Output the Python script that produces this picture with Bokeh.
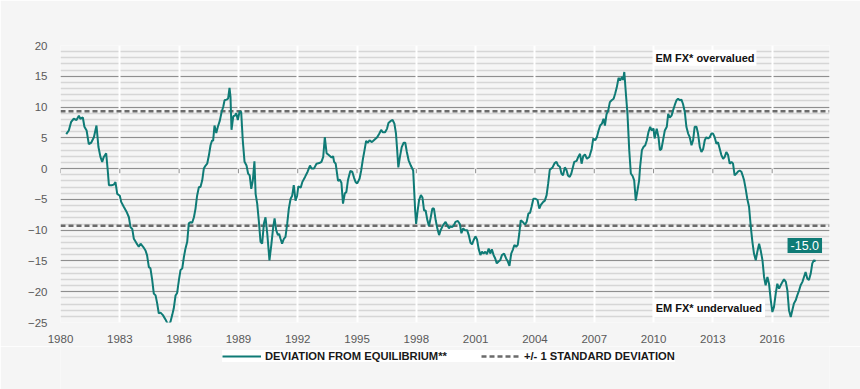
from bokeh.plotting import figure
from bokeh.layouts import column
from bokeh.models import (Range1d, Label, Legend, LegendItem, FixedTicker, ColumnDataSource)
from bokeh.embed import file_html
from bokeh.resources import INLINE

# ---------------- data ----------------
years = [
    1980.29, 1980.42, 1980.54, 1980.67, 1980.81, 1980.93, 1981.00, 1981.13, 1981.21, 1981.32,
    1981.43, 1981.55, 1981.69, 1981.82, 1981.92, 1982.02, 1982.11, 1982.19, 1982.31, 1982.39,
    1982.45, 1982.58, 1982.70, 1982.78, 1982.87, 1983.00, 1983.07, 1983.20, 1983.34, 1983.46,
    1983.54, 1983.63, 1983.71, 1983.84, 1983.96, 1984.05, 1984.18, 1984.30, 1984.38, 1984.47,
    1984.55, 1984.64, 1984.72, 1984.81, 1984.89, 1984.97, 1985.06, 1985.18, 1985.31, 1985.45,
    1985.56, 1985.65, 1985.73, 1985.82, 1985.90, 1985.99, 1986.07, 1986.16, 1986.24, 1986.32,
    1986.41, 1986.49, 1986.58, 1986.66, 1986.75, 1986.83, 1986.91, 1987.00, 1987.08, 1987.17,
    1987.25, 1987.34, 1987.42, 1987.51, 1987.59, 1987.67, 1987.72, 1987.79, 1987.88, 1987.96,
    1988.06, 1988.15, 1988.23, 1988.30, 1988.40, 1988.48, 1988.55, 1988.60, 1988.65, 1988.74,
    1988.82, 1988.89, 1988.97, 1989.06, 1989.14, 1989.22, 1989.31, 1989.41, 1989.49, 1989.57,
    1989.65, 1989.73, 1989.81, 1989.87, 1989.95, 1990.03, 1990.12, 1990.20, 1990.29, 1990.37,
    1990.46, 1990.57, 1990.66, 1990.76, 1990.83, 1990.91, 1991.00, 1991.06, 1991.13, 1991.21,
    1991.30, 1991.38, 1991.47, 1991.55, 1991.64, 1991.72, 1991.80, 1991.89, 1991.97,
    1992.03, 1992.15, 1992.23, 1992.37, 1992.50, 1992.62, 1992.70, 1992.82, 1992.95, 1993.09,
    1993.20, 1993.29, 1993.37, 1993.46, 1993.57, 1993.71, 1993.79, 1993.84, 1993.92, 1994.04,
    1994.13, 1994.21, 1994.29, 1994.38, 1994.46, 1994.54, 1994.66, 1994.76, 1994.85, 1994.93,
    1995.01, 1995.13, 1995.21, 1995.30, 1995.38, 1995.46, 1995.55, 1995.63, 1995.75, 1995.88,
    1996.02, 1996.13, 1996.22, 1996.30, 1996.42, 1996.52, 1996.59, 1996.69, 1996.80, 1996.89,
    1996.97, 1997.02, 1997.09, 1997.17, 1997.26, 1997.36, 1997.44, 1997.52, 1997.61, 1997.72,
    1997.84, 1997.89, 1997.94, 1997.99, 1998.06, 1998.14, 1998.23, 1998.31, 1998.39, 1998.47,
    1998.56, 1998.64, 1998.73, 1998.81, 1998.89, 1998.98, 1999.06, 1999.15, 1999.23, 1999.35,
    1999.48, 1999.56, 1999.65, 1999.73, 1999.81, 1999.90, 1999.98, 2000.10, 2000.20, 2000.28,
    2000.37, 2000.45, 2000.57, 2000.65, 2000.74, 2000.82, 2000.90, 2000.99, 2001.07, 2001.15,
    2001.24, 2001.32, 2001.40, 2001.49, 2001.57, 2001.66, 2001.74, 2001.82, 2001.91, 2001.99,
    2002.07, 2002.16, 2002.24, 2002.33, 2002.44, 2002.54, 2002.63, 2002.71, 2002.80, 2002.88,
    2002.96, 2003.05, 2003.13, 2003.21, 2003.28, 2003.38, 2003.50, 2003.58, 2003.67, 2003.75,
    2003.83, 2003.92, 2004.03, 2004.13, 2004.22, 2004.30, 2004.42, 2004.50, 2004.59, 2004.67,
    2004.75, 2004.89, 2005.00, 2005.09, 2005.17, 2005.26, 2005.34, 2005.42, 2005.51, 2005.59,
    2005.67, 2005.76, 2005.84,
    2005.99, 2006.11, 2006.19, 2006.28, 2006.36, 2006.44, 2006.53, 2006.63, 2006.75, 2006.87,
    2006.95, 2007.05, 2007.13, 2007.22, 2007.30, 2007.39, 2007.47, 2007.54, 2007.62, 2007.71,
    2007.79, 2007.88, 2007.98, 2008.06, 2008.14, 2008.23, 2008.31, 2008.40, 2008.46, 2008.52,
    2008.60, 2008.68, 2008.77, 2008.85, 2008.94, 2009.02, 2009.10, 2009.19, 2009.27, 2009.32,
    2009.41, 2009.49, 2009.58, 2009.66, 2009.74, 2009.83, 2009.90, 2010.00, 2010.05, 2010.16,
    2010.25, 2010.32, 2010.40, 2010.48, 2010.57, 2010.67, 2010.74, 2010.82, 2010.91, 2010.99,
    2011.07, 2011.16, 2011.24, 2011.33, 2011.41, 2011.49, 2011.58, 2011.66, 2011.75, 2011.83,
    2011.92, 2012.00, 2012.08, 2012.17, 2012.25, 2012.34, 2012.42, 2012.51, 2012.59, 2012.67,
    2012.76, 2012.84, 2012.93, 2013.01, 2013.09, 2013.18, 2013.26, 2013.35, 2013.43, 2013.52,
    2013.60, 2013.68, 2013.77, 2013.85, 2013.94, 2014.02, 2014.10, 2014.19, 2014.27, 2014.36,
    2014.44, 2014.53, 2014.58, 2014.66, 2014.74, 2014.83, 2014.92, 2015.00, 2015.08, 2015.17,
    2015.25, 2015.34, 2015.42, 2015.51, 2015.59, 2015.67, 2015.76, 2015.84, 2015.93, 2016.01,
    2016.09, 2016.18, 2016.26, 2016.35, 2016.43, 2016.52, 2016.60, 2016.69, 2016.77, 2016.85,
    2016.94, 2017.02, 2017.10, 2017.19, 2017.27, 2017.36, 2017.44, 2017.53, 2017.61, 2017.69,
    2017.78, 2017.86, 2017.95, 2018.03, 2018.11, 2018.20,
]

deviation = [
    5.6, 6.2, 7.6, 8.1, 7.9, 8.6, 8.1, 8.3, 6.8, 6.2,
    4.0, 4.2, 5.1, 7.0, 3.5, 1.9, 1.1, 1.9, 2.5, -0.3,
    -2.7, -2.7, -2.6, -2.2, -4.1, -4.4, -5.4, -6.2, -7.0, -7.9,
    -9.5, -9.8, -11.4, -12.1, -12.7, -12.2, -12.7, -13.3, -14.1, -16.0,
    -16.2, -18.1, -20.3, -20.6, -21.9, -23.5, -23.4, -23.8, -24.5, -25.4,
    -24.9, -23.8, -22.7, -20.6, -20.2, -18.1, -16.5, -16.2, -14.4, -13.0,
    -11.9, -8.9, -8.7, -8.8, -7.9, -6.5, -4.4, -3.0, -3.0, -1.9,
    0.0, 0.5, 0.8, 2.2, 3.8, 4.6, 4.5, 7.0, 5.8, 6.8,
    7.8, 9.2, 10.0, 11.1, 11.2, 11.4, 13.1, 11.6, 6.3, 8.5,
    8.6, 9.0, 7.9, 9.3, 9.2, 4.6, 1.1, 0.5, -0.8, -1.1,
    -3.3, -1.9, 1.2, -4.1, -5.7, -8.4, -11.9, -12.2, -8.9, -7.9,
    -10.6, -14.9, -12.5, -9.5, -8.1, -10.0, -10.8, -10.6, -11.4, -12.2,
    -11.4, -11.1, -8.9, -6.5, -4.9, -4.4, -2.7, -5.2, -4.4,
    -2.9, -3.1, -2.2, -1.35, -0.5, 0.5, 0.0, 0.0, 0.8, 0.9,
    1.1, 1.9, 5.1, 2.5, 2.2, 1.8, 2.0, 1.1, 0.8, -2.0,
    -1.8, -2.3, -5.7, -4.05, -3.8, -1.9, -0.4, -0.5, -1.5, -2.2,
    -2.4, -1.6, -0.3, 1.6, 3.0, 4.5, 4.2, 4.6, 4.3, 4.7,
    5.1, 5.7, 6.3, 5.9, 5.9, 6.5, 7.4, 7.7, 7.9, 7.3,
    5.7, 3.5, 0.2, 1.9, 3.5, 4.2, 4.2, 2.7, 1.35, 0.5,
    -0.3, -3.5, -6.8, -9.0, -7.0, -5.1, -4.3, -4.7, -6.8, -6.8,
    -8.4, -9.35, -7.9, -6.5, -6.5, -8.4, -9.7, -10.8, -10.0, -9.2,
    -8.65, -9.2, -9.7, -9.35, -9.5, -9.2, -8.65, -8.5, -9.0, -10.5,
    -9.7, -10.0, -10.0, -10.8, -12.05, -12.3, -11.6, -11.0, -11.5, -13.0,
    -14.05, -13.5, -13.8, -13.5, -13.9, -13.0, -13.8, -13.1, -14.05, -14.6,
    -15.4, -15.1, -14.9, -14.05, -13.8, -14.6, -15.1, -15.8, -13.8, -13.2,
    -12.4, -12.7, -12.4, -10.5, -8.4, -8.65, -9.1, -8.65, -7.3, -7.2,
    -6.2, -4.9, -4.9, -5.1, -6.5, -5.9, -5.4, -5.2, -4.3, -2.4,
    -0.2, 0.2, 0.9, 1.1, 0.5, 0.3, -0.8, -1.1, 0.2, -0.2,
    -1.1, -1.35, -0.8,
    1.1, 1.25, 1.9, 2.4, 0.8, 2.0, 2.3, 1.6, 1.9, 3.2,
    4.9, 4.6, 5.1, 6.2, 7.0, 7.3, 8.1, 7.0, 8.8, 9.5,
    10.8, 11.1, 11.35, 12.2, 13.2, 14.75, 14.3, 14.9, 14.4, 15.7,
    12.2, 8.9, 3.0, -0.8, -1.2, -1.9, -5.2, -3.5, -1.9, 0.3,
    3.0, 3.5, 3.8, 4.6, 5.9, 6.8, 6.2, 6.5, 4.9, 6.5,
    5.1, 3.0, 3.2, 4.6, 6.2, 6.8, 8.9, 8.3, 8.6, 9.5,
    10.3, 11.1, 11.35, 11.1, 11.2, 10.5, 9.2, 6.8, 5.7, 5.1,
    3.8, 4.6, 6.8, 6.8, 5.7, 3.5, 2.7, 3.2, 4.6, 5.1,
    4.9, 5.1, 5.7, 5.7, 5.1, 4.05, 4.3, 3.2, 2.2, 1.6,
    1.9, 2.7, 2.2, 0.8, 1.1, 0.8, -1.1, -0.8, -0.5, -0.3,
    -0.5, -1.35, -1.9, -3.3, -4.9, -6.2, -9.5, -11.9, -13.8, -14.9,
    -13.5, -12.2, -13.3, -14.9, -17.6, -18.95, -17.6, -18.7, -21.4, -23.3,
    -22.5, -20.3, -18.7, -19.5, -18.95, -18.4, -18.0, -18.4, -19.8, -23.0,
    -24.1, -23.0, -21.9, -21.4, -20.6, -19.8, -18.95, -18.4, -17.6, -16.8,
    -17.9, -18.1, -17.05, -15.4, -14.9, -15.0,
]

std_dev = 9.3
x_start, x_end = 1980, 2018.9
y_start, y_end = -25, 20
x_ticks = [1980, 1983, 1986, 1989, 1992, 1995, 1998, 2001, 2004, 2007, 2010, 2013, 2016]
y_ticks = [-25, -20, -15, -10, -5, 0, 5, 10, 15, 20]
series_label = "DEVIATION FROM EQUILIBRIUM**"
std_label = "+/- 1 STANDARD DEVIATION"
over_label = "EM FX* overvalued"
under_label = "EM FX* undervalued"

# ---------------- styling ----------------
TEAL = "#0f7b76"
DASH_COLOR = "#6b6b6b"
BG = "#f5f5f5"
FONT = "Liberation Sans"

p = figure(width=860, height=346, output_backend="svg", toolbar_location=None,
           x_range=Range1d(x_start, x_end), y_range=Range1d(y_start, y_end),
           background_fill_color=BG, border_fill_color=BG, outline_line_color=None,
           min_border_left=60, min_border_right=31, min_border_top=45, min_border_bottom=24)

# grids
p.ygrid.ticker = FixedTicker(ticks=y_ticks, minor_ticks=list(range(y_start, y_end + 1)))
p.ygrid.grid_line_color = "#8f8f8f"
p.ygrid.grid_line_width = 1
p.ygrid.minor_grid_line_color = "#d6d6d6"
p.ygrid.minor_grid_line_width = 1.6
p.xgrid.ticker = FixedTicker(ticks=x_ticks)
p.xgrid.grid_line_color = "white"
p.xgrid.grid_line_width = 2

# axes
p.xaxis.ticker = FixedTicker(ticks=x_ticks)
p.yaxis.ticker = FixedTicker(ticks=y_ticks)
for ax in (p.xaxis[0], p.yaxis[0]):
    ax.axis_line_color = None
    ax.major_tick_line_color = None
    ax.minor_tick_line_color = None
    ax.major_label_text_font = FONT
    ax.major_label_text_font_size = "11.5px"
    ax.major_label_text_color = "#595959"
p.yaxis.major_label_standoff = 7
p.xaxis.major_label_standoff = 6

# tick marks sitting on the zero line
p.segment(x0=x_ticks, x1=x_ticks, y0=[0] * len(x_ticks), y1=[-0.75] * len(x_ticks),
          line_color="#8f8f8f", line_width=1)

# +/- 1 standard deviation lines across the whole plot
p.multi_line(xs=[[x_start, x_end], [x_start, x_end]],
             ys=[[std_dev, std_dev], [-std_dev, -std_dev]],
             line_color=DASH_COLOR, line_width=2.5, line_dash="5 3")

src = ColumnDataSource(dict(x=years, y=deviation))
p.line("x", "y", source=src, line_color=TEAL, line_width=2)

# annotations
p.add_layout(Label(x=2012.6, y=18.0, text=over_label, text_align="center",
                   text_baseline="middle", text_font=FONT, text_font_size="11px",
                   text_font_style="bold", text_color="#111111",
                   background_fill_color="white", padding=2))
p.add_layout(Label(x=2012.8, y=-22.7, text=under_label, text_align="center",
                   text_baseline="middle", text_font=FONT, text_font_size="11px",
                   text_font_style="bold", text_color="#111111",
                   background_fill_color="white", padding=3))
p.add_layout(Label(x=years[-1] - 0.55, y=deviation[-1] + 2.5,
                   text=f"{deviation[-1]:.1f}", text_align="center",
                   text_baseline="middle", text_font=FONT, text_font_size="12.5px",
                   text_color="white", background_fill_color=TEAL, padding=3))

# white vertical grid on top of the horizontal grid
p.center = [p.ygrid[0], p.xgrid[0]] + [r for r in p.center if r not in (p.xgrid[0], p.ygrid[0])]

# ---------------- legend strip ----------------
leg = figure(width=860, height=43, output_backend="svg", toolbar_location=None,
             x_range=Range1d(0, 1), y_range=Range1d(0, 1),
             x_axis_location=None, y_axis_location=None,
             background_fill_color=BG, border_fill_color=BG, outline_line_color=None,
             min_border=0)
leg.grid.visible = False
# legend proxies: same series, lying outside this strip's visible range
main_proxy = leg.line(x=years, y=deviation, line_color=TEAL, line_width=2)
std_proxy = leg.line(x=years, y=deviation, line_color=DASH_COLOR, line_width=2.5, line_dash="5 3")
legend = Legend(items=[LegendItem(label=series_label, renderers=[main_proxy]),
                       LegendItem(label=std_label, renderers=[std_proxy])],
                orientation="horizontal", location=(162, 27),
                background_fill_color="white", background_fill_alpha=1,
                border_line_color=None, padding=3, spacing=34, margin=0,
                glyph_width=39, glyph_height=10, label_height=10, label_standoff=4,
                label_text_font=FONT, label_text_font_size="11.2px",
                label_text_font_style="bold", label_text_color="#1a1a1a")
leg.add_layout(legend)

layout = column(p, leg, spacing=0)

html = file_html(layout, INLINE)
html = html.replace("<body>", '<body style="margin:0;background-color:#f5f5f5;">', 1)
open("out.html", "w").write(html)
